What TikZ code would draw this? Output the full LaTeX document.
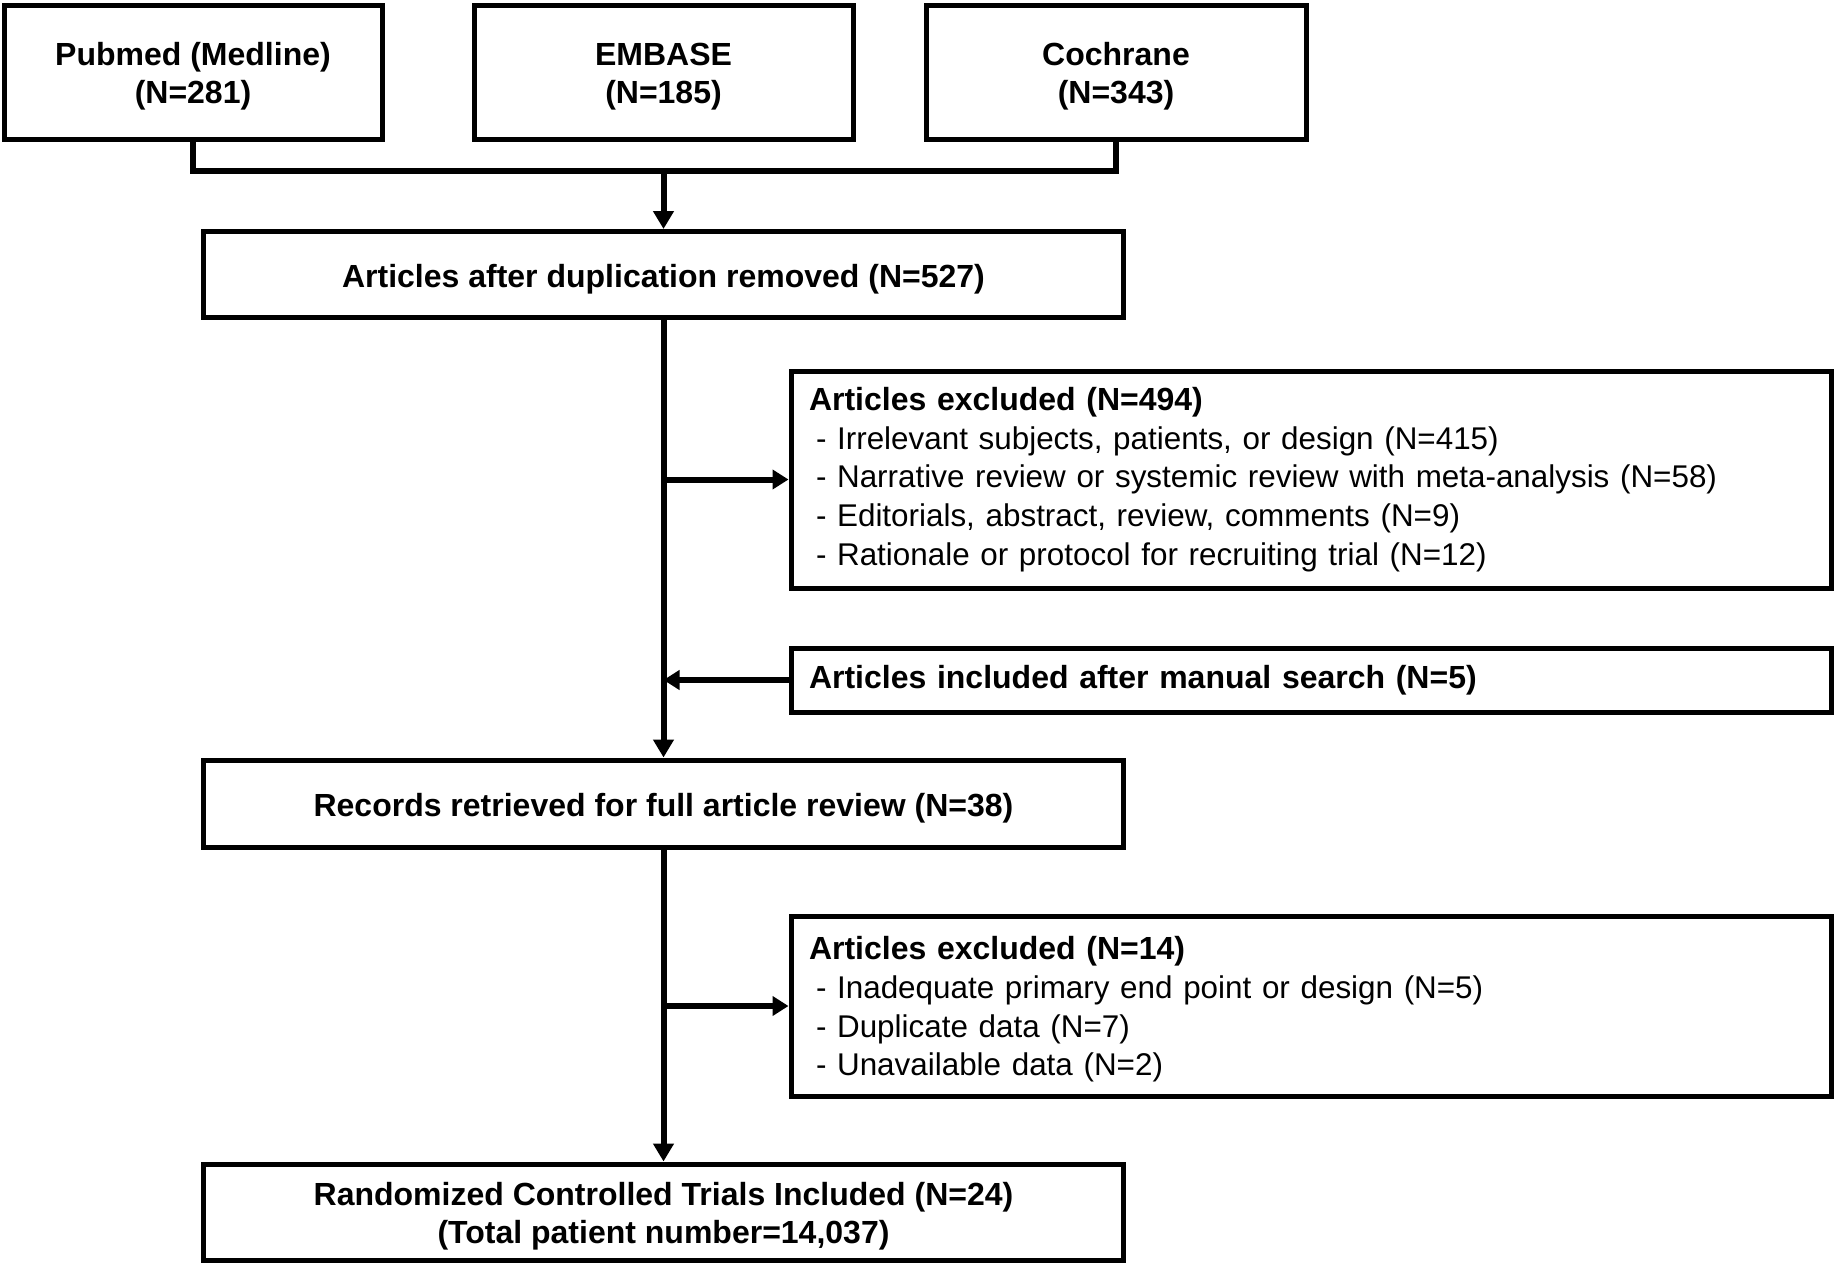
\documentclass[tikz,border=0pt]{standalone}
\usepackage{fontspec}
\setmainfont{Liberation Sans}
\usetikzlibrary{arrows.meta}
\newcommand\toplift{\rule{0pt}{32pt}}
\newcommand\itemfont{\fontsize{31.4}{38.6}\selectfont}
\begin{document}
\begin{tikzpicture}[x=1pt,y=-1pt,
  box/.style={draw=black, line width=5pt, inner sep=0pt, align=center,
    font=\fontsize{32}{38.6}\selectfont\bfseries},
  lbox/.style={draw=black, line width=5pt, inner ysep=0pt, inner xsep=18pt,
    align=left, font=\fontsize{32}{38.6}\selectfont},
  conn/.style={line width=6pt, draw=black},
  arr/.style={conn, -{Triangle[length=18pt,width=20pt]}},
  harr/.style={conn, -{Triangle[length=16pt,width=19pt]}}]
\useasboundingbox[fill=white] (0,0) rectangle (1836,1264);

\node[box, minimum width=378pt, minimum height=134pt] (pub) at (193,72) {\toplift Pubmed (Medline)\\(N=281)};
\node[box, minimum width=379pt, minimum height=134pt] (emb) at (663.5,72) {\toplift EMBASE\\(N=185)};
\node[box, minimum width=380pt, minimum height=134pt] (coch) at (1116,72) {\toplift Cochrane\\(N=343)};

\node[box, minimum width=920pt, minimum height=86pt] (dup) at (663.5,274.5) {\toplift Articles after duplication removed (N=527)};

\node[lbox, text width=1004pt, minimum width=1040pt, minimum height=217pt] (ex1) at (1311,479.5)
  {\textbf{Articles excluded (N=494)}\\
   {\itemfont\hspace*{7pt}- Irrelevant subjects, patients, or design (N=415)}\\
   {\itemfont\hspace*{7pt}- Narrative review or systemic review with meta-analysis (N=58)}\\
   {\itemfont\hspace*{7pt}- Editorials, abstract, review, comments (N=9)}\\
   {\itemfont\hspace*{7pt}- Rationale or protocol for recruiting trial (N=12)}};

\node[lbox, text width=1004pt, minimum width=1040pt, minimum height=64pt] (man) at (1311,680)
  {\textbf{Articles included after manual search (N=5)}};

\node[box, minimum width=920pt, minimum height=87pt] (rec) at (663.5,803.5) {\toplift Records retrieved for full article review (N=38)};

\node[lbox, text width=1004pt, minimum width=1040pt, minimum height=180pt] (ex2) at (1311,1006)
  {\rule{0pt}{30pt}\textbf{Articles excluded (N=14)}\\
   {\itemfont\hspace*{7pt}- Inadequate primary end point or design (N=5)}\\
   {\itemfont\hspace*{7pt}- Duplicate data (N=7)}\\
   {\itemfont\hspace*{7pt}- Unavailable data (N=2)}};

\node[box, minimum width=920pt, minimum height=96pt] (fin) at (663.5,1212)
  {\toplift Randomized Controlled Trials Included (N=24)\\(Total patient number=14,037)};

\coordinate (jn) at (663.5,170.5);
\draw[conn, line join=miter] (pub.south) |- (jn) -- (coch.south |- jn) -- (coch.south);
\draw[arr] (jn) -- (dup.north);
\draw[arr] (dup.south) -- (rec.north);
\draw[arr] (rec.south) -- (fin.north);
\draw[harr] (dup.south |- ex1.west) -- (ex1.west);
\draw[harr] (man.west) -- (dup.south |- man.west);
\draw[harr] (rec.south |- ex2.west) -- (ex2.west);
\end{tikzpicture}
\end{document}
